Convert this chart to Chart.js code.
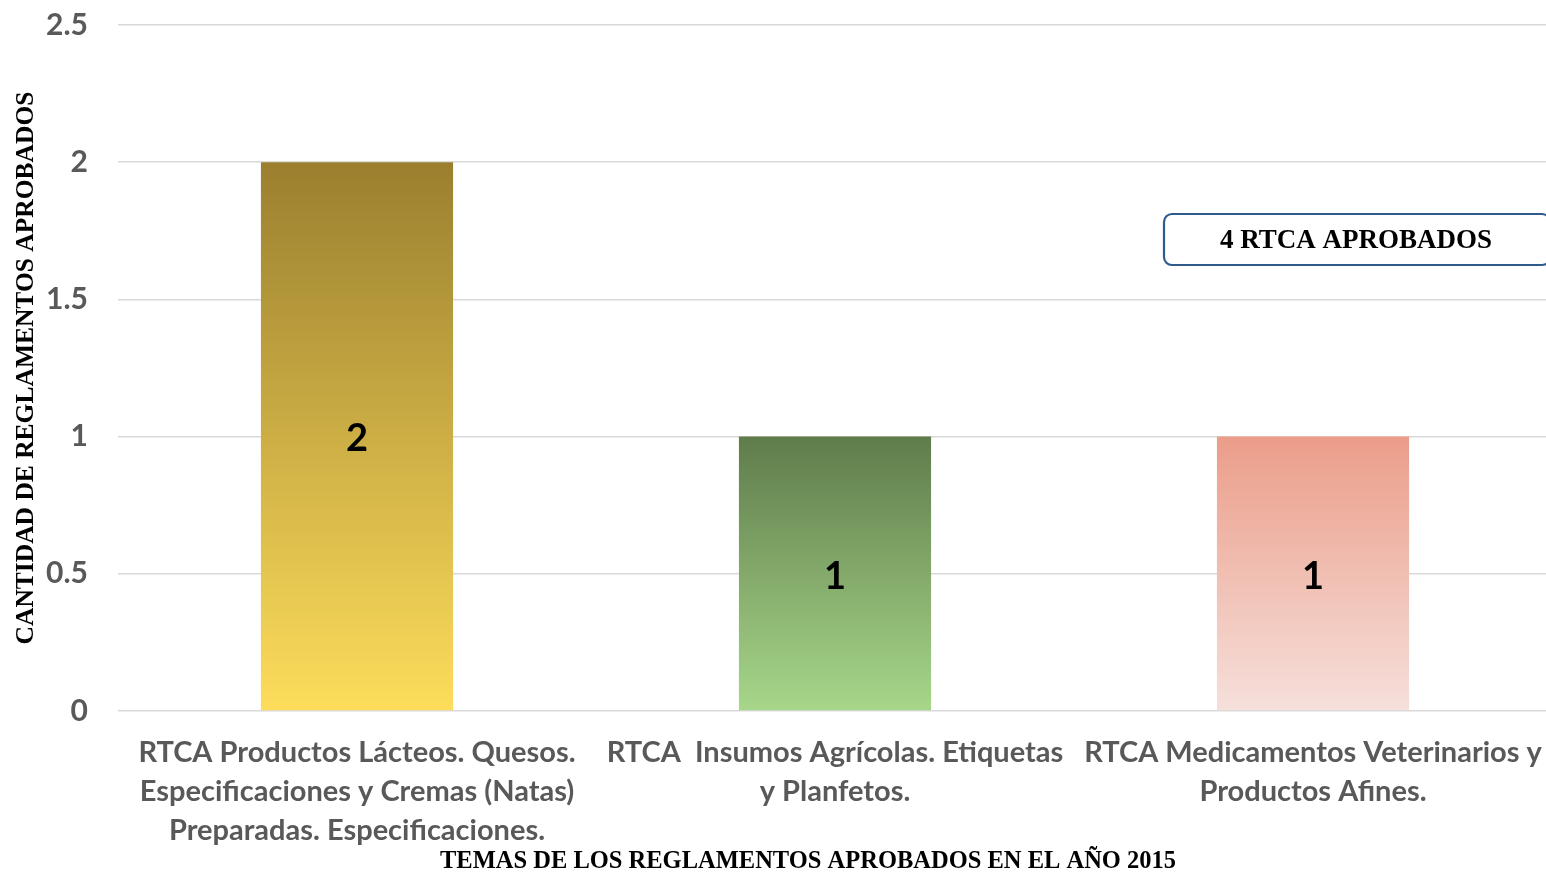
<!DOCTYPE html>
<html>
<head>
<meta charset="utf-8">
<script src="https://cdn.jsdelivr.net/npm/chart.js@4/dist/chart.umd.min.js"></script>
<style>
  html, body { margin: 0; padding: 0; background: #ffffff; overflow: hidden; }
  #wrap { width: 1552px; height: 875px; position: relative; }
</style>
</head>
<body>
<div id="wrap"><canvas id="c" width="1552" height="875"></canvas></div>
<script>
// ---- data ----
const categories = [
  ["RTCA Productos Lácteos. Quesos.", "Especificaciones y Cremas (Natas)", "Preparadas. Especificaciones."],
  ["RTCA  Insumos Agrícolas. Etiquetas", "y Planfetos."],
  ["RTCA Medicamentos Veterinarios y", "Productos Afines."]
];
const values = [2, 1, 1];
const topColors = ["#9B7F2F", "#5F7C4B", "#EB9D89"];
const bottomColors = ["#FDDD5B", "#A7D78A", "#F6E0DB"];
const yTickValues = [0, 0.5, 1, 1.5, 2, 2.5];
const yTitle = "CANTIDAD DE REGLAMENTOS APROBADOS";
const xTitle = "TEMAS DE LOS REGLAMENTOS APROBADOS EN EL AÑO 2015";
const noteText = "4 RTCA APROBADOS";

const SANS = "Lato, 'Open Sans', sans-serif";
const SERIF = "'Liberation Serif', 'DejaVu Serif', serif";

const valueLabels = {
  id: 'valueLabels',
  afterDatasetsDraw(chart) {
    const ctx = chart.ctx;
    const meta = chart.getDatasetMeta(0);
    ctx.save();
    ctx.font = "bold 38px " + SANS;
    ctx.fillStyle = "#000000";
    ctx.textAlign = "center";
    ctx.textBaseline = "middle";
    meta.data.forEach((el, i) => {
      ctx.fillText(String(values[i]), el.x, (el.y + el.base) / 2 + 3);
    });
    ctx.restore();
  }
};

const extras = {
  id: 'extras',
  afterDraw(chart) {
    const ctx = chart.ctx;
    ctx.save();
    // x axis title
    ctx.font = "bold 24.5px " + SERIF;
    ctx.fillStyle = "#000000";
    ctx.textAlign = "center";
    ctx.textBaseline = "middle";
    ctx.fillText(xTitle, 808, 862);
    // note box
    ctx.beginPath();
    ctx.roundRect(1164, 214, 386, 51, 8);
    ctx.fillStyle = "#ffffff";
    ctx.fill();
    ctx.lineWidth = 2.2;
    ctx.strokeStyle = "#2F5A8A";
    ctx.stroke();
    ctx.fillStyle = "#000000";
    ctx.font = "bold 27px " + SERIF;
    ctx.fillText(noteText, 1356, 241);
    ctx.restore();
  }
};

new Chart(document.getElementById('c'), {
  type: 'bar',
  data: {
    labels: categories,
    datasets: [{
      data: values,
      backgroundColor: (ctx) => {
        const chart = ctx.chart;
        const i = ctx.dataIndex;
        if (!chart.chartArea || ctx.type !== 'data' || !chart.scales.y) return topColors[i];
        const y = chart.scales.y;
        const top = y.getPixelForValue(values[i]);
        const bottom = y.getPixelForValue(0);
        const g = chart.ctx.createLinearGradient(0, top, 0, bottom);
        g.addColorStop(0, topColors[i]);
        g.addColorStop(1, bottomColors[i]);
        return g;
      },
      borderWidth: 0,
      categoryPercentage: 1,
      barPercentage: 0.402
    }]
  },
  options: {
    responsive: false,
    animation: false,
    layout: { padding: { top: 25, right: 0, bottom: 0, left: 0 } },
    plugins: { legend: { display: false }, tooltip: { enabled: false } },
    scales: {
      x: {
        grid: { display: false, drawTicks: false },
        border: { display: false },
        ticks: {
          autoSkip: false, maxRotation: 0, minRotation: 0,
          padding: 22,
          color: "#595959",
          font: { family: SANS, size: 29, weight: 'bold', lineHeight: 1.345 }
        },
        afterFit(scale) {
          scale.height = 164;
          scale.paddingLeft = 0; scale.paddingRight = 0;
        }
      },
      y: {
        min: 0, max: 2.5,
        afterBuildTicks(scale) { scale.ticks = yTickValues.map(v => ({ value: v })); },
        grid: { color: "#D9D9D9", lineWidth: 1.5, drawTicks: false },
        border: { display: false },
        ticks: {
          padding: 30,
          color: "#595959",
          font: { family: SANS, size: 30, weight: 'bold' },
          callback: (v) => String(v)
        },
        title: {
          display: true,
          text: yTitle,
          color: "#000000",
          font: { family: SERIF, size: 25.5, weight: 'bold' },
          padding: { top: 11, bottom: 0 }
        },
        afterFit(scale) {
          scale.width = 118;
          scale.paddingTop = 0; scale.paddingBottom = 0;
        }
      }
    }
  },
  plugins: [valueLabels, extras]
});
</script>
</body>
</html>
